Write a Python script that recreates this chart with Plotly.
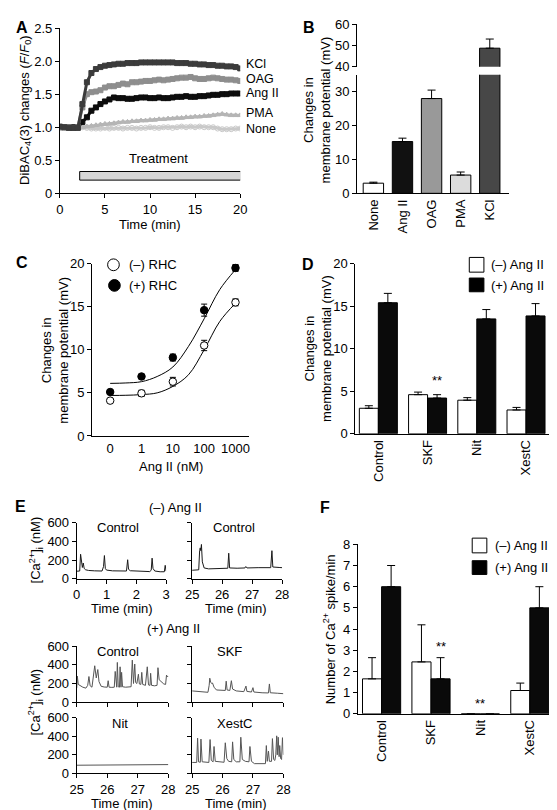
import plotly.graph_objects as go

W, H = 557, 810
FONT = "Liberation Sans, Arial, sans-serif"


def px(x):
    return x / W


def py(y):
    return 1 - y / H


# ---------------- Panel A data ----------------
time_a = [0, 0.5, 1, 1.5, 2, 2.5, 3, 3.5, 4, 4.5, 5, 5.5, 6, 6.5, 7, 7.5, 8, 8.5, 9, 9.5, 10,
          10.5, 11, 11.5, 12, 12.5, 13, 13.5, 14, 14.5, 15, 15.5, 16, 16.5, 17, 17.5, 18, 18.5, 19, 19.5, 20]
kcl_a = [1.01, 1.0, 0.99, 0.99, 0.99, 1.35, 1.68, 1.82, 1.88, 1.91, 1.93, 1.94, 1.95, 1.96, 1.96, 1.97, 1.97,
         1.97, 1.98, 1.98, 1.98, 1.98, 1.98, 1.98, 1.98, 1.98, 1.97, 1.97, 1.97, 1.96, 1.96, 1.95, 1.95, 1.94,
         1.94, 1.93, 1.93, 1.92, 1.92, 1.91, 1.89]
oag_a = [1.0, 1.0, 1.0, 0.99, 1.0, 1.3, 1.5, 1.53, 1.54, 1.56, 1.6, 1.62, 1.62, 1.64, 1.66, 1.65, 1.68, 1.68,
         1.69, 1.70, 1.70, 1.71, 1.72, 1.71, 1.72, 1.73, 1.74, 1.75, 1.75, 1.76, 1.74, 1.73, 1.73, 1.74, 1.75,
         1.74, 1.73, 1.72, 1.72, 1.71, 1.70]
ang_a = [1.0, 1.0, 1.0, 1.0, 1.0, 1.08, 1.15, 1.25, 1.3, 1.35, 1.39, 1.42, 1.45, 1.44, 1.44, 1.43, 1.43, 1.44,
         1.45, 1.45, 1.44, 1.44, 1.45, 1.44, 1.44, 1.45, 1.46, 1.46, 1.47, 1.46, 1.46, 1.47, 1.47, 1.48, 1.49,
         1.49, 1.50, 1.50, 1.51, 1.51, 1.51]
pma_a = [1.0, 1.0, 1.0, 1.0, 1.0, 1.0, 1.01, 1.02, 1.03, 1.04, 1.05, 1.05, 1.06, 1.07, 1.08, 1.08, 1.09, 1.09,
         1.10, 1.10, 1.11, 1.11, 1.12, 1.12, 1.13, 1.13, 1.14, 1.14, 1.15, 1.15, 1.16, 1.16, 1.17, 1.17, 1.18,
         1.19, 1.20, 1.19, 1.18, 1.18, 1.18]
none_a = [1.0, 1.0, 1.0, 1.0, 1.0, 1.0, 0.99, 0.98, 0.98, 0.98, 0.99, 0.98, 0.99, 0.99, 0.98, 0.99, 0.99, 0.98,
          0.99, 0.99, 1.0, 0.99, 0.99, 1.0, 1.0, 0.99, 1.0, 1.01, 1.0, 1.01, 1.0, 1.01, 1.0, 1.0, 1.0, 0.98,
          0.97, 0.97, 0.97, 0.98, 0.98]
a_label_vals = {"KCl": 1.95, "OAG": 1.73, "Ang II": 1.52, "PMA": 1.22, "None": 0.97}
treat_start, treat_end = 2.2, 20.1
treat_low, treat_high = 0.2, 0.33

# ---------------- Panel B data ----------------
b_cats = ["None", "Ang II", "OAG", "PMA", "KCl"]
b_vals = [3.0, 15.3, 28.0, 5.4, 48.7]
b_err = [0.3, 1.0, 2.5, 0.9, 4.3]
b_colors = ["#ffffff", "#111111", "#999999", "#dcdcdc", "#474747"]

# ---------------- Panel C data ----------------
c_ticks = ["0", "1", "10", "100", "1000"]
c_minus = [4.1, 4.95, 6.3, 10.5, 15.5]
c_minus_err = [0.2, 0.35, 0.5, 0.6, 0.4]
c_plus = [5.1, 6.9, 9.1, 14.6, 19.5]
c_plus_err = [0.2, 0.2, 0.4, 0.7, 0.4]
c_fit_x = [0, 0.5, 1, 1.5, 2, 2.5, 3, 3.5, 4]
c_fit_plus = [6.1, 6.15, 6.3, 6.9, 8.0, 10.4, 13.6, 17.0, 19.3]
c_fit_minus = [4.7, 4.72, 4.8, 5.0, 5.75, 7.1, 10.0, 13.3, 15.4]

# ---------------- Panel D data ----------------
d_cats = ["Control", "SKF", "Nit", "XestC"]
d_minus = [3.0, 4.6, 3.95, 2.8]
d_minus_err = [0.3, 0.3, 0.3, 0.3]
d_plus = [15.4, 4.2, 13.5, 13.85]
d_plus_err = [1.1, 0.4, 1.1, 1.45]

# ---------------- Panel F data ----------------
f_cats = ["Control", "SKF", "Nit", "XestC"]
f_minus = [1.65, 2.45, 0, 1.1]
f_minus_err = [1.0, 1.75, 0, 0.35]
f_plus = [6.0, 1.65, 0, 5.0]
f_plus_err = [1.0, 1.0, 0, 1.0]

# ---------------- Panel E traces (time min, [Ca2+]i nM) ----------------
e_noang_ctrl_early = [(0.0, 80), (0.10, 82), (0.13, 262), (0.16, 150), (0.19, 120), (0.22, 168), (0.25, 110),
                      (0.30, 95), (0.40, 88), (0.60, 84), (0.85, 82), (0.90, 130), (0.93, 248), (0.96, 110),
                      (1.00, 92), (1.20, 84), (1.50, 80), (1.67, 82), (1.71, 203), (1.74, 100), (1.80, 85),
                      (2.10, 78), (2.45, 76), (2.50, 90), (2.53, 220), (2.56, 110), (2.62, 82), (2.80, 74),
                      (2.94, 74), (2.97, 143), (3.0, 80)]
e_noang_ctrl_late = [(25.0, 90), (25.15, 92), (25.22, 95), (25.25, 300), (25.27, 330), (25.29, 300),
                     (25.31, 367), (25.34, 180), (25.40, 115), (25.55, 105), (25.8, 108), (26.1, 110),
                     (26.19, 112), (26.22, 273), (26.25, 115), (26.5, 112), (26.76, 115), (26.79, 130),
                     (26.83, 115), (27.2, 118), (27.62, 118), (27.66, 300), (27.69, 125), (27.9, 120), (28.0, 118)]
e_ang_ctrl = [(25.0, 150), (25.02, 280), (25.05, 190), (25.12, 175), (25.2, 160), (25.3, 150), (25.36, 180),
              (25.40, 275), (25.44, 175), (25.5, 160), (25.55, 300), (25.59, 391), (25.64, 260), (25.69, 350),
              (25.73, 220), (25.8, 170), (25.9, 162), (26.0, 160), (26.03, 230), (26.06, 160), (26.15, 158),
              (26.23, 160), (26.26, 330), (26.29, 165), (26.31, 160), (26.33, 427), (26.36, 165), (26.40, 160),
              (26.42, 380), (26.45, 160), (26.47, 320), (26.50, 165), (26.6, 160), (26.78, 165), (26.82, 452),
              (26.86, 200), (26.9, 410), (26.93, 210), (26.97, 200), (27.02, 300), (27.05, 195), (27.1, 190),
              (27.13, 320), (27.16, 190), (27.25, 180), (27.31, 380), (27.35, 185), (27.40, 180), (27.42, 310),
              (27.45, 180), (27.55, 175), (27.63, 180), (27.66, 370), (27.70, 240), (27.78, 210), (27.85, 195),
              (27.91, 190), (27.94, 290), (27.97, 270), (28.0, 280)]
e_ang_skf = [(25.0, 120), (25.2, 115), (25.4, 108), (25.52, 105), (25.56, 180), (25.58, 257), (25.61, 215),
             (25.64, 200), (25.67, 205), (25.72, 160), (25.8, 130), (26.0, 125), (26.09, 125), (26.12, 225),
             (26.15, 130), (26.24, 125), (26.29, 230), (26.33, 140), (26.45, 120), (26.7, 112), (26.77, 172),
             (26.8, 115), (26.95, 108), (27.0, 155), (27.03, 108), (27.3, 100), (27.51, 98), (27.54, 195),
             (27.57, 100), (27.8, 95), (28.0, 90)]
e_ang_nit = [(25.0, 88), (26.0, 90), (27.0, 93), (28.0, 95)]
e_ang_xestc = [(25.0, 118), (25.15, 118), (25.18, 380), (25.21, 125), (25.27, 120), (25.29, 370), (25.33, 125),
               (25.55, 118), (25.59, 365), (25.63, 140), (25.69, 125), (25.72, 290), (25.76, 130), (26.05, 120),
               (26.09, 330), (26.14, 160), (26.2, 130), (26.3, 125), (26.33, 340), (26.37, 150), (26.45, 125),
               (26.57, 125), (26.60, 390), (26.65, 150), (26.75, 130), (26.87, 125), (26.90, 290), (26.95, 130),
               (27.05, 105), (27.3, 100), (27.41, 105), (27.44, 300), (27.47, 130), (27.51, 240), (27.54, 130),
               (27.61, 130), (27.64, 375), (27.68, 150), (27.72, 140), (27.75, 200), (27.78, 405), (27.8, 200),
               (27.83, 390), (27.86, 180), (27.88, 300), (27.91, 160), (27.94, 150), (27.97, 385), (28.0, 200)]

fig = go.Figure()

# ---------- Panel A traces ----------
a_series = [
    ("None", none_a, "#c9c9c9", "circle-open"),
    ("PMA", pma_a, "#b5b5b5", "triangle-up"),
    ("Ang II", ang_a, "#0d0d0d", "square"),
    ("OAG", oag_a, "#8e8e8e", "square"),
    ("KCl", kcl_a, "#3c3c3c", "square"),
]
for name, vals, col, sym in a_series:
    fig.add_trace(go.Scatter(x=time_a, y=vals, mode="lines+markers", xaxis="x", yaxis="y",
                             line=dict(color=col, width=3),
                             marker=dict(symbol=sym, size=5, color=col, line=dict(color=col, width=1)),
                             showlegend=False, hoverinfo="skip"))

# ---------- Panel B ----------
b_x = list(range(len(b_cats)))
b_err_low = [e if v < 35 else 0 for v, e in zip(b_vals, b_err)]
fig.add_trace(go.Bar(x=b_x, y=b_vals, width=0.7, xaxis="x2", yaxis="y2",
                     marker=dict(color=b_colors, line=dict(color="black", width=1)),
                     error_y=dict(type="data", array=b_err_low, arrayminus=[0] * len(b_x), symmetric=False,
                                  color="black", thickness=1, width=4),
                     showlegend=False))
up_idx = [i for i, v in enumerate(b_vals) if v > 35]
fig.add_trace(go.Bar(x=[b_x[i] for i in up_idx], y=[b_vals[i] for i in up_idx], width=0.7,
                     xaxis="x3", yaxis="y3",
                     marker=dict(color=[b_colors[i] for i in up_idx], line=dict(color="black", width=1)),
                     error_y=dict(type="data", array=[b_err[i] for i in up_idx], arrayminus=[0] * len(up_idx),
                                  symmetric=False, color="black", thickness=1, width=4),
                     showlegend=False))

# ---------- Panel C ----------
c_x = list(range(len(c_ticks)))
fig.add_trace(go.Scatter(x=c_fit_x, y=c_fit_plus, mode="lines", line=dict(color="black", width=1, shape="spline"),
                         xaxis="x4", yaxis="y4", showlegend=False))
fig.add_trace(go.Scatter(x=c_fit_x, y=c_fit_minus, mode="lines", line=dict(color="black", width=1, shape="spline"),
                         xaxis="x4", yaxis="y4", showlegend=False))
fig.add_trace(go.Scatter(x=c_x, y=c_minus, mode="markers", xaxis="x4", yaxis="y4",
                         marker=dict(symbol="circle", size=7.5, color="white", line=dict(color="black", width=1)),
                         error_y=dict(type="data", array=c_minus_err, color="black", thickness=1, width=3),
                         showlegend=False))
fig.add_trace(go.Scatter(x=c_x, y=c_plus, mode="markers", xaxis="x4", yaxis="y4",
                         marker=dict(symbol="circle", size=7.5, color="black", line=dict(color="black", width=1)),
                         error_y=dict(type="data", array=c_plus_err, color="black", thickness=1, width=3),
                         showlegend=False))

# ---------- Panel D and F grouped bars ----------
half = 0.193
bw = 0.386


def grouped(cats, minus, minus_err, plus, plus_err, xa, ya):
    idx = list(range(len(cats)))
    fig.add_trace(go.Bar(x=[i - half for i in idx], y=minus, width=bw, xaxis=xa, yaxis=ya,
                         marker=dict(color="white", line=dict(color="black", width=1)),
                         error_y=dict(type="data", array=minus_err, arrayminus=[0] * len(idx), symmetric=False,
                                      color="black", thickness=1, width=4),
                         showlegend=False))
    fig.add_trace(go.Bar(x=[i + half for i in idx], y=plus, width=bw, xaxis=xa, yaxis=ya,
                         marker=dict(color="#0a0a0a", line=dict(color="black", width=1)),
                         error_y=dict(type="data", array=plus_err, arrayminus=[0] * len(idx), symmetric=False,
                                      color="black", thickness=1, width=4),
                         showlegend=False))


grouped(d_cats, d_minus, d_minus_err, d_plus, d_plus_err, "x5", "y5")
grouped(f_cats, f_minus, f_minus_err, f_plus, f_plus_err, "x6", "y6")

# ---------- Panel E traces ----------
e_traces = [
    (e_noang_ctrl_early, "x7", "y7", "#1a1a1a"),
    (e_noang_ctrl_late, "x8", "y8", "#1a1a1a"),
    (e_ang_ctrl, "x9", "y9", "#555555"),
    (e_ang_skf, "x10", "y10", "#555555"),
    (e_ang_nit, "x11", "y11", "#555555"),
    (e_ang_xestc, "x12", "y12", "#555555"),
]
for pts, xa, ya, col in e_traces:
    fig.add_trace(go.Scatter(x=[p[0] for p in pts], y=[p[1] for p in pts], mode="lines", xaxis=xa, yaxis=ya,
                             line=dict(color=col, width=1), showlegend=False, hoverinfo="skip"))

# ---------- Axes ----------
TICKFONT = dict(family=FONT, size=13, color="black")


def axis(dom, rng, **kw):
    d = dict(domain=dom, range=rng, showline=True, linecolor="black", linewidth=1, ticks="outside",
             ticklen=4, tickwidth=1, tickcolor="black", showgrid=False, zeroline=False,
             tickfont=TICKFONT, fixedrange=True)
    d.update(kw)
    return d


def xd(l, r):
    return [px(l), px(r)]


def yd(top, bottom):
    return [py(bottom), py(top)]


layout = dict(width=W, height=H, margin=dict(l=0, r=0, t=0, b=0), paper_bgcolor="white",
              plot_bgcolor="rgba(0,0,0,0)", barmode="overlay", font=dict(family=FONT, size=13, color="black"))

# A
A_X0, A_X1, A_TOP, A_BOT, A_YMAX = 46, 231, 13.3, 181.7, 2.5
layout["xaxis"] = axis(xd(A_X0, A_X1), [0, 20], anchor="y", tickvals=[0, 5, 10, 15, 20], ticklabelstandoff=0)
layout["yaxis"] = axis(yd(A_TOP, A_BOT), [0, A_YMAX], anchor="x", tickvals=[0, 0.5, 1, 1.5, 2, 2.5],
                       ticktext=["0", "0.5", "1.0", "1.5", "2.0", "2.5"])
# B
b_range = [-0.557, 4.67]
layout["xaxis2"] = axis(xd(351, 507), b_range, anchor="y2", tickvals=b_x, ticktext=b_cats, tickangle=-90, ticks="")
layout["yaxis2"] = axis(yd(61, 181.7), [0, 35], anchor="x2", tickvals=[0, 10, 20, 30])
layout["xaxis3"] = axis(xd(351, 507), b_range, anchor="y3", visible=False)
layout["yaxis3"] = axis(yd(9.3, 52.7), [40, 60], anchor="x3", tickvals=[40, 50, 60])
# C
layout["xaxis4"] = axis(xd(79, 240), [-0.58, 4.43], anchor="y4", tickvals=c_x, ticktext=c_ticks, ticks="")
layout["yaxis4"] = axis(yd(253.3, 428.9), [0, 20], anchor="x4", tickvals=[0, 5, 10, 15, 20])
# D
layout["xaxis5"] = axis(xd(349, 556), [-0.47, 3.63], anchor="y5", tickvals=list(range(len(d_cats))),
                        ticktext=d_cats, tickangle=-90, ticks="")
layout["yaxis5"] = axis(yd(253.3, 426.7), [0, 20], anchor="x5", tickvals=[0, 5, 10, 15, 20])
# F
layout["xaxis6"] = axis(xd(351.7, 557), [-0.48, 3.57], anchor="y6", tickvals=list(range(len(f_cats))),
                        ticktext=f_cats, tickangle=-90, ticks="")
layout["yaxis6"] = axis(yd(539.3, 712), [0, 8], anchor="x6", tickvals=list(range(9)))
# E
EFONT = dict(family=FONT, size=13, color="black")
e_axes = [
    (7, (63.3, 155), [0, 3], [0, 1, 2, 3], True, (517.3, 574.3), True),
    (8, (181.7, 274), [25, 28], [25, 26, 27, 28], True, (517.3, 574.3), False),
    (9, (63.3, 157.3), [25, 28], [25, 26, 27, 28], False, (643.3, 700), True),
    (10, (181.7, 275.3), [25, 28], [25, 26, 27, 28], False, (643.3, 700), False),
    (11, (63.3, 157.3), [25, 28], [25, 26, 27, 28], True, (716, 772.7), True),
    (12, (181.7, 275.3), [25, 28], [25, 26, 27, 28], True, (716, 772.7), False),
]
for n, xdom, xr, xt, xlab, ydom, ylab in e_axes:
    layout["xaxis%d" % n] = axis(xd(*xdom), xr, anchor="y%d" % n, tickvals=xt, showticklabels=xlab,
                                 tickfont=EFONT, ticklabelstandoff=0)
    layout["yaxis%d" % n] = axis(yd(*ydom), [0, 600], anchor="x%d" % n, tickvals=[0, 200, 400, 600],
                                 showticklabels=ylab, tickfont=EFONT)

# ---------- Shapes ----------
shapes = [
    dict(type="rect", xref="x", yref="y", x0=treat_start, x1=treat_end, y0=treat_low, y1=treat_high,
         fillcolor="#d6d6d6", line=dict(color="black", width=1)),
    # C legend
    dict(type="circle", xref="paper", yref="paper", x0=px(95), x1=px(107), y0=py(260.5), y1=py(248.5),
         fillcolor="white", line=dict(color="black", width=1)),
    dict(type="circle", xref="paper", yref="paper", x0=px(96), x1=px(108), y0=py(281.5), y1=py(269.5),
         fillcolor="black", line=dict(color="black", width=1)),
    # D legend
    dict(type="rect", xref="paper", yref="paper", x0=px(466), x1=px(481), y0=py(262), y1=py(247),
         fillcolor="white", line=dict(color="black", width=1)),
    dict(type="rect", xref="paper", yref="paper", x0=px(466), x1=px(481), y0=py(282), y1=py(268),
         fillcolor="black", line=dict(color="black", width=1)),
    # F legend
    dict(type="rect", xref="paper", yref="paper", x0=px(469), x1=px(484), y0=py(548), y1=py(533),
         fillcolor="white", line=dict(color="black", width=1)),
    dict(type="rect", xref="paper", yref="paper", x0=px(469), x1=px(484), y0=py(570), y1=py(556),
         fillcolor="black", line=dict(color="black", width=1)),
]
layout["shapes"] = shapes

# ---------- Annotations ----------
ann = []


def text(x, y, s, size=13, angle=0, xanchor="center", yanchor="middle", bold=False):
    if bold:
        s = "<b>%s</b>" % s
    ann.append(dict(x=px(x), y=py(y), xref="paper", yref="paper", text=s, showarrow=False, textangle=angle,
                    xanchor=xanchor, yanchor=yanchor, font=dict(family=FONT, size=size, color="black")))


# panel letters
for letter, (lx, ly) in {"A": (7, 12.5), "B": (302, 12.5), "C": (7, 252), "D": (301, 254),
                         "E": (6, 501), "F": (318, 502)}.items():
    text(lx, ly, letter, size=16, bold=True)

# A
text(10, 97, "DiBAC<sub>4</sub>(3) changes (<i>F</i>/<i>F</i><sub>0</sub>)", angle=-90)
text(138, 213, "Time (min)")
for k, v in a_label_vals.items():
    # end-of-trace labels just right of the plot, at the series' value on the A y-scale
    text(235, A_BOT - v / A_YMAX * (A_BOT - A_TOP), k, size=12.5, xanchor="left")
ann.append(dict(x=10.9, y=0.52, xref="x", yref="y", text="Treatment", showarrow=False,
                font=dict(family=FONT, size=13, color="black")))

# B
text(310, 97, "Changes in<br>membrane potential (mV)", angle=-90)
# C
text(41, 341, "Changes in<br>membrane potential (mV)", angle=-90)
text(160, 460, "Ang II (nM)")
text(115, 254.5, "(\u2013) RHC", xanchor="left")
text(115, 275.5, "(+) RHC", xanchor="left")
# D
text(311, 340, "Changes in<br>membrane potential (mV)", angle=-90)
text(486.5, 254.5, "(\u2013) Ang II", xanchor="left")
text(486.5, 275.5, "(+) Ang II", xanchor="left")
ann.append(dict(x=1 + half, y=6.3, xref="x5", yref="y5", text="**", showarrow=False, yanchor="middle",
                font=dict(family=FONT, size=13, color="black")))
# F
text(323, 626, "Number of Ca<sup>2+</sup> spike/min", angle=-90)
text(490, 540.5, "(\u2013) Ang II", xanchor="left")
text(490, 563, "(+) Ang II", xanchor="left")
ann.append(dict(x=1 + half, y=3.2, xref="x6", yref="y6", text="**", showarrow=False, yanchor="middle",
                font=dict(family=FONT, size=13, color="black")))
ann.append(dict(x=2, y=0.5, xref="x6", yref="y6", text="**", showarrow=False, yanchor="middle",
                font=dict(family=FONT, size=13, color="black")))
# E
text(165, 502, "(\u2013) Ang II")
text(163, 625, "(+) Ang II")
text(21, 545, "[Ca<sup>2+</sup>]<sub>i</sub> (nM)", angle=-90)
text(21, 700, "[Ca<sup>2+</sup>]<sub>i</sub> (nM)", angle=-90)
text(110, 605, "Time (min)")
text(227, 605, "Time (min)")
text(110, 803, "Time (min)")
text(227, 803, "Time (min)")
for s, (tx, ty) in [("Control", (106, 522)), ("Control", (225, 522)), ("Control", (106, 648)),
                    ("SKF", (220, 648)), ("Nit", (108, 722)), ("XestC", (225, 722))]:
    text(tx, ty, s)

layout["annotations"] = ann
fig.update_layout(**layout)
fig.write_html("out.html")
